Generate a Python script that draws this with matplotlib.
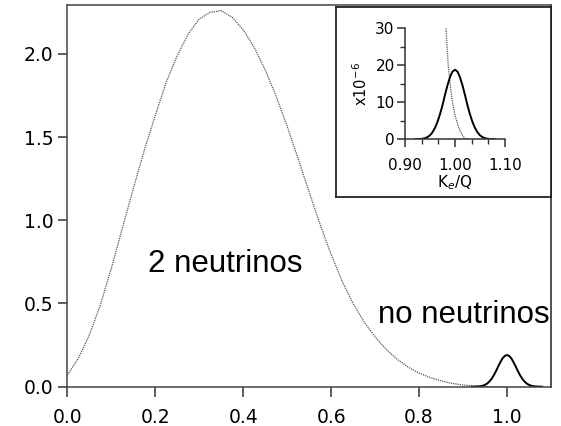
import numpy as np
import matplotlib
matplotlib.use("Agg")
import matplotlib.pyplot as plt

# 2-neutrino spectrum (K_e/Q, rate)
two_nu_x = [0.0, 0.025, 0.05, 0.075, 0.1, 0.125, 0.15, 0.175, 0.2, 0.225,
            0.25, 0.275, 0.3, 0.325, 0.35, 0.375, 0.4, 0.425, 0.45, 0.475,
            0.5, 0.525, 0.55, 0.575, 0.6, 0.625, 0.65, 0.675, 0.7, 0.725,
            0.75, 0.775, 0.8, 0.825, 0.85, 0.875, 0.9, 0.925, 0.95, 0.975, 1.0]
two_nu_y = [0.07, 0.17, 0.31, 0.49, 0.71, 0.95, 1.19, 1.42, 1.63, 1.83,
            1.99, 2.12, 2.21, 2.25, 2.26, 2.22, 2.145, 2.04, 1.905, 1.745,
            1.565, 1.37, 1.17, 0.975, 0.795, 0.635, 0.50, 0.39, 0.30, 0.225,
            0.165, 0.118, 0.082, 0.055, 0.035, 0.020, 0.010, 0.004, 0.001, 0.0, 0.0]

# 0-neutrino peak at Q
peak_x = [0.92, 0.93, 0.935, 0.94, 0.945, 0.95, 0.955, 0.96, 0.965, 0.97, 0.975,
          0.98, 0.985, 0.99, 0.995, 1.0, 1.005, 1.01, 1.015, 1.02, 1.025,
          1.03, 1.035, 1.04, 1.045, 1.05, 1.055, 1.06, 1.065, 1.07, 1.08]
peak_main = [0.0, 0.0008, 0.0016, 0.003, 0.006, 0.011, 0.019, 0.031, 0.047, 0.068, 0.093,
             0.121, 0.147, 0.170, 0.185, 0.190, 0.185, 0.170, 0.147, 0.121, 0.093,
             0.068, 0.047, 0.031, 0.019, 0.011, 0.006, 0.003, 0.0016, 0.0008, 0.0]
peak_inset = [0.0, 0.08, 0.16, 0.3, 0.6, 1.1, 1.9, 3.1, 4.7, 6.8, 9.2,
              12.0, 14.6, 16.8, 18.3, 18.8, 18.3, 16.8, 14.6, 12.0, 9.2,
              6.8, 4.7, 3.1, 1.9, 1.1, 0.6, 0.3, 0.16, 0.08, 0.0]

# 2-neutrino tail in the inset (x1e-6)
tail_x = [0.978, 0.982, 0.9865, 0.991, 0.995, 1.0, 1.007, 1.012, 1.017, 1.022, 1.03]
tail_y = [36.0, 30.0, 20.0, 14.0, 10.0, 6.5, 3.4, 1.8, 0.7, 0.1, 0.0]

fig = plt.figure(figsize=(5.61, 4.26), dpi=100)
ax = fig.add_axes([0.12, 0.0923, 0.862, 0.896])

dots = dict(color="#555555", linewidth=0.9, linestyle=(0, (1, 0.8)))
ax.plot(two_nu_x, two_nu_y, **dots)
ax.plot(peak_x, peak_main, color="black", linewidth=1.4)

ax.set_xlim(0, 1.1)
ax.set_ylim(0, 2.294)
ax.set_xticks([0.0, 0.2, 0.4, 0.6, 0.8, 1.0])
ax.set_yticks([0.0, 0.5, 1.0, 1.5, 2.0])
ax.xaxis.set_major_formatter(matplotlib.ticker.FormatStrFormatter("%.1f"))
ax.yaxis.set_major_formatter(matplotlib.ticker.FormatStrFormatter("%.1f"))
ax.tick_params(axis="x", direction="out", length=7, width=1.1, labelsize=13.5, pad=8, color="#333333")
ax.tick_params(axis="y", direction="out", length=6.5, width=1.1, labelsize=13.5, pad=3.5, color="#333333")
for s in ax.spines.values():
    s.set_linewidth(1.1)
    s.set_color("#444444")
ax.spines["right"].set_color("#222222")

ax.text(0.183, 0.69, "2 neutrinos", fontsize=22.5, family="Liberation Sans", va="baseline", ha="left")
ax.text(0.706, 0.38, "no neutrinos", fontsize=22.5, family="Liberation Sans", va="baseline", ha="left")

# inset frame
box = fig.add_axes([0.599, 0.5376, 0.383, 0.446])
box.set_xticks([])
box.set_yticks([])
for s in box.spines.values():
    s.set_linewidth(1.3)
    s.set_color("#222222")
box.set_zorder(2)

ins = fig.add_axes([0.722, 0.673, 0.178, 0.2606])
ins.set_zorder(3)
ins.patch.set_alpha(0)
ins.plot(tail_x, tail_y, **dots)
ins.plot(peak_x, peak_inset, color="black", linewidth=1.4)
ins.set_xlim(0.90, 1.10)
ins.set_ylim(0, 30)
ins.set_xticks([0.90, 1.00, 1.10])
ins.set_xticks([0.9333, 0.9667, 1.0333, 1.0667], minor=True)
ins.set_yticks([0, 10, 20, 30])
ins.set_yticks([5, 15, 25], minor=True)
ins.xaxis.set_major_formatter(matplotlib.ticker.FormatStrFormatter("%.2f"))
ins.spines["top"].set_visible(False)
ins.spines["right"].set_visible(False)
for s in ("left", "bottom"):
    ins.spines[s].set_linewidth(1.1)
    ins.spines[s].set_color("#333333")
ins.tick_params(which="major", direction="out", length=5.5, width=1.1, labelsize=11, color="#333333")
ins.tick_params(which="minor", direction="out", length=3.5, width=1.0, color="#333333")
ins.tick_params(axis="x", which="major", pad=8)
ins.tick_params(axis="y", which="major", pad=2)
ins.set_xlabel("K$_e$/Q", fontsize=11, labelpad=0)
ins.set_ylabel("x10$^{-6}$", fontsize=10.5, labelpad=4)

fig.savefig("out.png", dpi=100)
